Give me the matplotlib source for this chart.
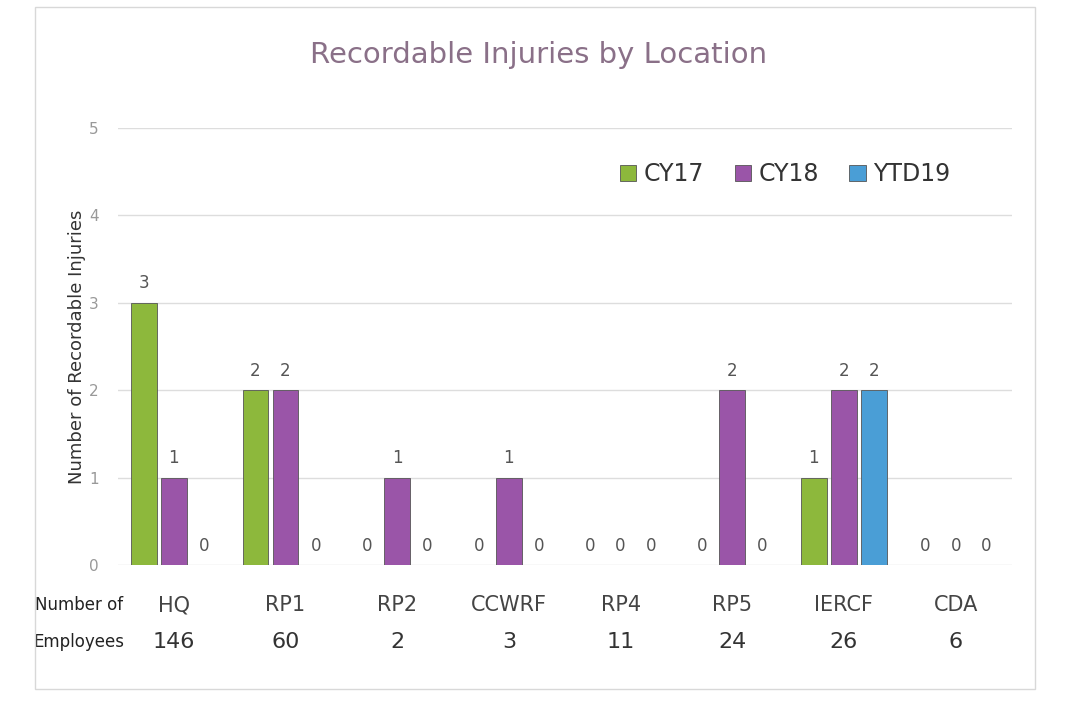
import matplotlib.pyplot as plt
import numpy as np

locations = ['HQ', 'RP1', 'RP2', 'CCWRF', 'RP4', 'RP5', 'IERCF', 'CDA']
employees = [146, 60, 2, 3, 11, 24, 26, 6]
cy17 = [3, 2, 0, 0, 0, 0, 1, 0]
cy18 = [1, 2, 1, 1, 0, 2, 2, 0]
ytd19 = [0, 0, 0, 0, 0, 0, 2, 0]

series = [('CY17', cy17, '#8db83c'), ('CY18', cy18, '#9a55a8'), ('YTD19', ytd19, '#4a9ed6')]

fig = plt.figure(figsize=(10.67, 7.07), dpi=100)
fig.patches.append(plt.Rectangle((0.033, 0.025), 0.937, 0.965, transform=fig.transFigure,
                                 fill=False, edgecolor='#d8d8d8', lw=1))
ax = fig.add_axes([0.1106, 0.2008, 0.8374, 0.6182])

x = np.arange(len(locations))
w = 0.23
step = 0.27
for i, (name, vals, col) in enumerate(series):
    pos = x + (i - 1) * step
    bars = ax.bar(pos, vals, w, color=col, edgecolor='#555555', lw=0.6, label=name, zorder=3)
    for p, v in zip(pos, vals):
        ax.text(p, v + 0.12, str(v), ha='center', va='bottom', fontsize=12, color='#555555')

ax.set_xlim(-0.5, len(locations) - 0.5)
ax.set_ylim(0, 5)
ax.set_yticks(range(6))
ax.tick_params(axis='y', length=0, labelsize=11, labelcolor='#999999', pad=14)
ax.tick_params(axis='x', length=0)
ax.set_xticks([])
ax.yaxis.grid(True, color='#dddddd', lw=1)
ax.set_axisbelow(True)
for s in ax.spines.values():
    s.set_visible(False)
ax.set_ylabel('Number of Recordable Injuries', fontsize=13, color='#333333', labelpad=2)

# location names and headcounts under the axis
for xi, loc, emp in zip(x, locations, employees):
    ax.text(xi, -0.46, loc, ha='center', va='center', fontsize=15, color='#444444')
    ax.text(xi, -0.88, str(emp), ha='center', va='center', fontsize=16, color='#333333')
ax.text(-0.85, -0.46, 'Number of', ha='center', va='center', fontsize=12, color='#222222', clip_on=False)
ax.text(-0.85, -0.88, 'Employees', ha='center', va='center', fontsize=12, color='#222222', clip_on=False)

fig.text(0.505, 0.922, 'Recordable Injuries by Location', ha='center', va='center',
         fontsize=21, color='#8a7088')

ax.legend(loc='upper right', bbox_to_anchor=(0.955, 0.97), ncol=3, frameon=False, fontsize=17,
          handlelength=0.7, handleheight=0.7, columnspacing=1.3, handletextpad=0.3, labelcolor='#333333')

fig.savefig('out.png', dpi=100)
